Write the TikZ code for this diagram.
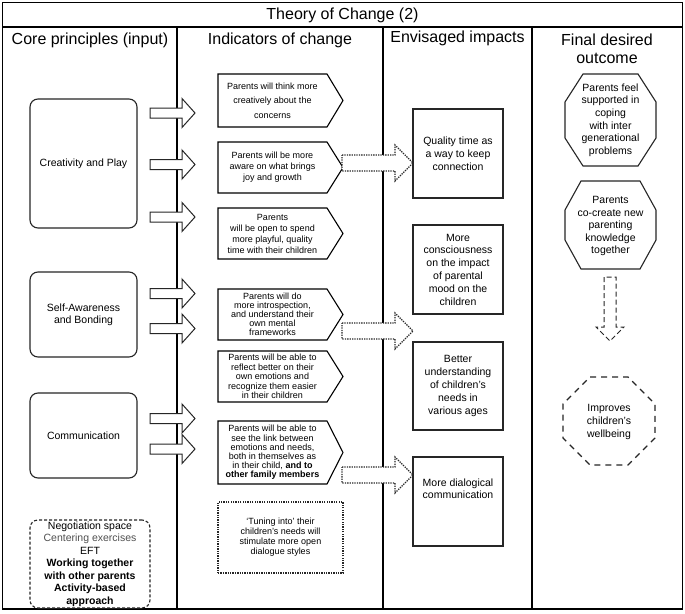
\documentclass[tikz,border=0pt]{standalone}
\usepackage{fontspec}
\setmainfont{Liberation Sans}
\usetikzlibrary{calc}
\definecolor{lineC}{HTML}{262626}
\definecolor{greyT}{HTML}{505050}
\newcommand\fs[2]{\fontsize{#1}{#2}\selectfont}
% pentagon (signal) outline around a node
\newcommand\pentagon[2][]{\draw[#1] (#2.north west) -- (#2.north east) -- ($(#2.east)+(16,0)$) -- (#2.south east) -- (#2.south west) -- cycle;}
% octagon outline around a node: name, dx, dy
\newcommand\octo[4][]{\draw[#1] ($(#2.north west)+(#3,0)$) -- ($(#2.north east)+(-#3,0)$) -- ($(#2.north east)+(0,#4)$) -- ($(#2.south east)+(0,-#4)$) -- ($(#2.south east)+(-#3,0)$) -- ($(#2.south west)+(#3,0)$) -- ($(#2.south west)+(0,-#4)$) -- ($(#2.north west)+(0,#4)$) -- cycle;}
% horizontal block arrow: tail, tip, shaft half, head half, head length
\newcommand\harrow[6][]{\draw[#1] ($(#2)+(0,-#4)$) -- ($(#3)+(-#6,-#4)$) -- ($(#3)+(-#6,-#5)$) -- (#3) -- ($(#3)+(-#6,#5)$) -- ($(#3)+(-#6,#4)$) -- ($(#2)+(0,#4)$) -- cycle;}
\tikzset{
  base/.style={inner sep=0pt, outer sep=0pt, align=center, text=black},
  tbl/.style={draw=black, line width=1.3pt},
  cpbox/.style={base, draw=lineC, line width=1.1pt, rounded corners=8pt, fill=white, minimum width=107pt, font=\fs{10.5}{12}},
  indbox/.style={base, minimum width=109pt},
  indline/.style={draw=black, line width=1.1pt},
  impbox/.style={base, draw=lineC, line width=1.1pt, fill=white, minimum width=90pt, font=\fs{10.5}{12.8}},
  octbox/.style={base, minimum width=91pt},
  solidarrow/.style={draw=lineC, line width=1pt, fill=white},
  dotline/.style={dash pattern=on 1.3pt off 1.1pt},
  dotarrow/.style={draw=lineC, line width=1.2pt, dotline, fill=white},
  head/.style={base, font=\fs{16}{18}}
}
\begin{document}
\begin{tikzpicture}[x=1pt, y=-1pt]
\useasboundingbox (0,0) rectangle (685,613);
\fill[white] (0,0) rectangle (685,613);
% table
\draw[tbl] (2.5,2.5) rectangle (682.5,609);
\draw[tbl] (2.5,27) -- (682.5,27);
\draw[tbl] (177,27) -- (177,609);
\draw[tbl] (383,27) -- (383,609);
\draw[tbl] (532,27) -- (532,609);
% headers
\node[head] (title) at (342.5,15) {Theory of Change (2)};
\node[head] (h1) at (90,40) {Core principles (input)};
\node[head] (h2) at (280,40) {Indicators of change};
\node[head] (h3) at (457.5,38.5) {Envisaged impacts};
\node[head] (h4) at (607,49) {Final desired\\outcome};
% core principles
\node[cpbox, minimum height=129pt] (cp) at (83.5,163.5) {Creativity and Play};
\node[cpbox, minimum height=85pt] (sa) at (83.5,314.5) {Self-Awareness\\and Bonding};
\node[cpbox, minimum height=85pt] (co) at (83.5,435.5) {Communication};
\node[cpbox, dashed, dash pattern=on 3pt off 2pt, minimum width=120pt, minimum height=88pt, font=\fs{10.5}{12.5}] (ns) at (90,564)
  {Negotiation space\\{\color{greyT}Centering exercises}\\EFT\\\textbf{Working together}\\\textbf{with other parents}\\\textbf{Activity-based}\\\textbf{approach}};
% solid block arrows
\foreach \n/\yy in {1/113,2/164.5,3/217,4/293.5,5/328.5,6/418.5,7/449}{
  \coordinate (sa\n) at (150,\yy);
  \coordinate (sb\n) at (195,\yy);
  \harrow[solidarrow]{sa\n}{sb\n}{5}{14.5}{13}
}
% indicators
\node[indbox, minimum height=53pt, font=\fs{9}{14.5}] (i1) at (272.5,100.5) {Parents will think more\\creatively about the\\concerns};
\node[indbox, minimum height=51pt, font=\fs{9}{11}] (i2) at (272.5,167.5) {Parents will be more\\aware on what brings\\joy and growth};
\node[indbox, minimum height=51pt, font=\fs{9}{11}] (i3) at (272.5,233.5) {Parents\\will be open to spend\\more playful, quality\\time with their children};
\node[indbox, minimum height=51pt, font=\fs{9}{9}] (i4) at (272.5,314.5) {Parents will do\\more introspection,\\and understand their\\own mental\\frameworks};
\node[indbox, minimum height=51pt, font=\fs{9}{9.5}] (i5) at (272.5,376.5) {Parents will be able to\\reflect better on their\\own emotions and\\recognize them easier\\in their children};
\node[indbox, minimum height=63pt, font=\fs{9}{9.2}] (i6) at (272.5,452.5) {Parents will be able to\\see the link between\\emotions and needs,\\both in themselves as\\in their child, \textbf{and to}\\\textbf{other family members}};
\foreach \n in {i1,i2,i3,i4,i5,i6}{\pentagon[indline]{\n}}
\node[base, draw=lineC, line width=1.2pt, dotline, minimum width=125pt, minimum height=71pt, font=\fs{9}{10}] (i7) at (280.5,537.5)
  {`Tuning into' their\\children's needs will\\stimulate more open\\dialogue styles};
% dotted block arrows
\coordinate (da1) at (342,163); \coordinate (db1) at (413,163);
\coordinate (da2) at (342,331); \coordinate (db2) at (413,331);
\coordinate (da3) at (342,475); \coordinate (db3) at (413,475);
\foreach \n in {1,2,3}{\harrow[dotarrow]{da\n}{db\n}{8}{18}{18}}
% impacts
\node[impbox, minimum height=89pt] (e1) at (458,153.5) {Quality time as\\a way to keep\\connection};
\node[impbox, minimum height=89pt] (e2) at (458,269.5) {More\\consciousness\\on the impact\\of parental\\mood on the\\children};
\node[impbox, minimum height=88pt] (e3) at (458,386) {Better\\understanding\\of children's\\needs in\\various ages};
\node[impbox, minimum height=89pt] (e4) at (458,501.5) {More dialogical\\communication\\~\\~};
% final outcomes
\node[octbox, minimum height=92pt] (o1) at (610.5,120) {};
\node[octbox, minimum height=88pt] (o2) at (610.5,225) {};
\node[octbox, minimum width=92pt, minimum height=88pt] (o3) at (609,421) {};
\octo[draw=lineC, line width=1.1pt]{o1}{18}{28}
\octo[draw=lineC, line width=1.1pt]{o2}{16}{29}
\octo[draw=lineC, line width=1.1pt, dashed, dash pattern=on 6pt off 5pt]{o3}{27}{27}
\node[base, font=\fs{10.5}{12.6}] (t1) at (o1) {Parents feel\\supported in\\coping\\with inter\\generational\\problems};
\node[base, font=\fs{10.5}{12.5}] (t2) at ($(o2)+(0,1)$) {Parents\\co-create new\\parenting\\knowledge\\together};
\node[base, font=\fs{10.5}{13}] (t3) at ($(o3)+(0,1)$) {Improves\\children's\\wellbeing};
% dashed down arrow
\coordinate (dt) at (610,277);
\coordinate (dh) at (610,341);
\draw[draw=lineC, line width=1pt, dashed, dash pattern=on 5pt off 3pt] ($(dt)+(-6,0)$) -- ($(dh)+(-6,-14)$) -- ($(dh)+(-14,-14)$) -- (dh) -- ($(dh)+(14,-14)$) -- ($(dh)+(6,-14)$) -- ($(dt)+(6,0)$) -- cycle;
\end{tikzpicture}
\end{document}
